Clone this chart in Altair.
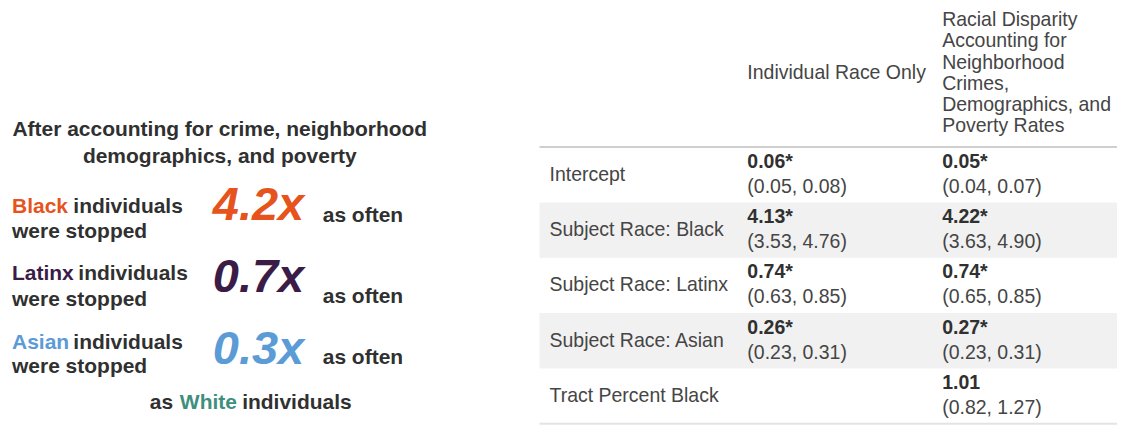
import altair as alt
import pandas as pd

# ---------------- content ----------------
title_lines = ["After accounting for crime, neighborhood", "demographics, and poverty"]
races = ["Black", "Latinx", "Asian"]
multipliers = ["4.2x", "0.7x", "0.3x"]
reference_group = "White"

row_labels = ["Intercept", "Subject Race: Black", "Subject Race: Latinx",
              "Subject Race: Asian", "Tract Percent Black"]
ind_est = ["0.06*", "4.13*", "0.74*", "0.26*", ""]
ind_ci = ["(0.05, 0.08)", "(3.53, 4.76)", "(0.63, 0.85)", "(0.23, 0.31)", ""]
adj_est = ["0.05*", "4.22*", "0.74*", "0.27*", "1.01"]
adj_ci = ["(0.04, 0.07)", "(3.63, 4.90)", "(0.65, 0.85)", "(0.23, 0.31)", "(0.82, 1.27)"]
col_headers = ["Individual Race Only",
               "Racial Disparity\nAccounting for\nNeighborhood\nCrimes,\nDemographics, and\nPoverty Rates"]

# ---------------- styles ----------------
FONT = "Liberation Sans"
DARK = "#303030"
TABLE_TXT = "#454545"
race_colors = ["#e6531d", "#3a1c47", "#5b9bd6"]
white_color = "#3f8f7f"

# ---------------- layout (left panel, pixel positions) ----------------
title_x, title_y = [212, 212], [122, 149]
lab_x = 4
lab_right = [175, 180, 175]
lab_y1 = [199, 266, 335]
lab_y2 = [224, 292, 359]
mult_x = 205
mult_y = [198, 270, 342]
often_x = 315
often_y = [208, 289, 350]
foot_y = 395
foot_as_x, foot_white_x, foot_ind_right = 142, 172, 344

W_LEFT, W_RIGHT, H = 530, 580, 411


def px(df, **mark):
    enc = dict(
        x=alt.X("x:Q", scale=None, axis=None),
        y=alt.Y("y:Q", scale=None, axis=None),
        text="text:N",
    )
    if "color" in df.columns:
        enc["color"] = alt.Color("color:N", scale=None, legend=None)
    return alt.Chart(df).mark_text(font=FONT, baseline="middle", **mark).encode(**enc)


title_df = pd.DataFrame({"text": title_lines, "x": title_x, "y": title_y})
race_word_df = pd.DataFrame({"text": races, "x": [lab_x] * 3, "y": lab_y1, "color": race_colors})
indiv_df = pd.DataFrame({"text": ["individuals"] * 3, "x": lab_right, "y": lab_y1})
stopped_df = pd.DataFrame({"text": ["were stopped"] * 3, "x": [lab_x] * 3, "y": lab_y2})
mult_df = pd.DataFrame({"text": multipliers, "x": [mult_x] * 3, "y": mult_y, "color": race_colors})
often_df = pd.DataFrame({"text": ["as often"] * 3, "x": [often_x] * 3, "y": often_y})
foot_as = pd.DataFrame({"text": ["as"], "x": [foot_as_x], "y": [foot_y]})
foot_white = pd.DataFrame({"text": [reference_group], "x": [foot_white_x], "y": [foot_y], "color": [white_color]})
foot_ind = pd.DataFrame({"text": ["individuals"], "x": [foot_ind_right], "y": [foot_y]})

left = alt.layer(
    px(title_df, fontSize=21, fontWeight="bold", align="center", color=DARK),
    px(race_word_df, fontSize=21, fontWeight="bold", align="left"),
    px(indiv_df, fontSize=21, fontWeight="bold", align="right", color=DARK),
    px(stopped_df, fontSize=21, fontWeight="bold", align="left", color=DARK),
    px(mult_df, fontSize=47, fontWeight="bold", fontStyle="italic", align="left"),
    px(often_df, fontSize=21, fontWeight="bold", align="left", color=DARK),
    px(foot_as, fontSize=21, fontWeight="bold", align="left", color=DARK),
    px(foot_white, fontSize=21, fontWeight="bold", align="left"),
    px(foot_ind, fontSize=21, fontWeight="bold", align="right", color=DARK),
).properties(width=W_LEFT, height=H)

# ---------------- right panel (table) ----------------
tbl = pd.DataFrame({
    "idx": list(range(len(row_labels))),
    "label": row_labels,
    "ind_est": ind_est,
    "ind_ci": ind_ci,
    "adj_est": adj_est,
    "adj_ci": adj_ci,
})
yscale = alt.Scale(domain=[-0.5, len(row_labels) - 0.5], range=[139, 416])
X_LAB, X_C1, X_C2, X_L, X_R = 12, 210, 405, 2, W_RIGHT
TS = 19.5

base = alt.Chart(tbl)
bands = base.transform_filter("datum.idx % 2 == 1").transform_calculate(
    y0="datum.idx - 0.5", y1="datum.idx + 0.5"
).mark_rect(color="#f1f1f1").encode(
    x=alt.value(X_L), x2=alt.value(X_R),
    y=alt.Y("y0:Q", scale=yscale, axis=None), y2="y1:Q",
)
ycol = alt.Y("idx:Q", scale=yscale, axis=None)
labels = base.mark_text(font=FONT, fontSize=TS, align="left", baseline="middle", color=TABLE_TXT).encode(
    x=alt.value(X_LAB), y=ycol, text="label:N")


def cell(field, xpos, dy, bold):
    kw = dict(font=FONT, fontSize=TS, align="left", baseline="middle", dy=dy,
              color=(DARK if bold else TABLE_TXT))
    if bold:
        kw["fontWeight"] = "bold"
    return base.mark_text(**kw).encode(x=alt.value(xpos), y=ycol, text=f"{field}:N")


lines_df = pd.DataFrame({"v": [-0.5, len(row_labels) - 0.5], "c": ["#cfcfcf", "#e3e3e3"]})
hlines = alt.Chart(lines_df).mark_rule(strokeWidth=2).encode(
    x=alt.value(X_L), x2=alt.value(X_R),
    y=alt.Y("v:Q", scale=yscale, axis=None),
    color=alt.Color("c:N", scale=None, legend=None),
)

hdr1 = alt.Chart(pd.DataFrame({"t": [col_headers[0]]})).mark_text(
    font=FONT, fontSize=TS, align="left", baseline="middle", color=TABLE_TXT
).encode(x=alt.value(X_C1), y=alt.value(65), text="t:N")
hdr2 = alt.Chart(pd.DataFrame({"t": [col_headers[1]]})).mark_text(
    font=FONT, fontSize=TS, align="left", baseline="middle", color=TABLE_TXT,
    lineBreak="\n", lineHeight=21.2
).encode(x=alt.value(X_C2), y=alt.value(12), text="t:N")

right = alt.layer(
    bands, hlines, labels,
    cell("ind_est", X_C1, -13, True), cell("ind_ci", X_C1, 12, False),
    cell("adj_est", X_C2, -13, True), cell("adj_ci", X_C2, 12, False),
    hdr1, hdr2,
).properties(width=W_RIGHT, height=H)

chart = alt.hconcat(left, right, spacing=0).properties(
    padding=0, background="white"
).configure_view(stroke=None)

chart.save("out.html", embed_options={"renderer": "svg", "actions": False})
